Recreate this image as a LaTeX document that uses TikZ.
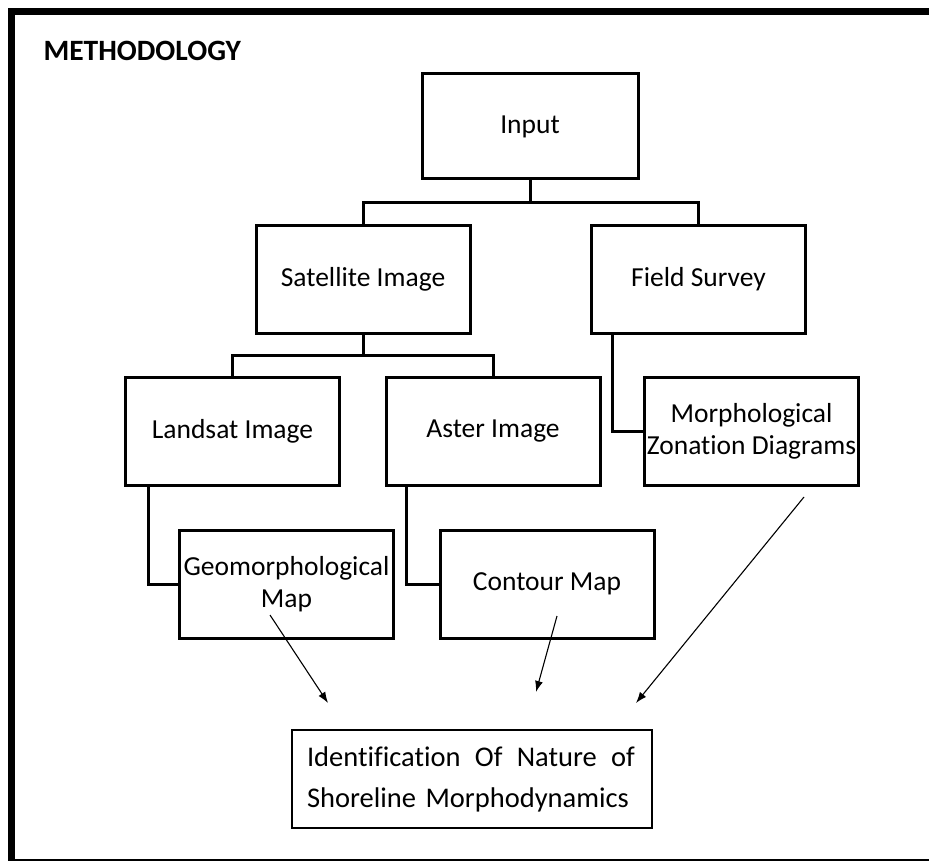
\documentclass[tikz,border=0pt]{standalone}
\usepackage{fontspec}
\setmainfont{Carlito}[Ligatures=NoCommon]
\usetikzlibrary{arrows.meta,calc}
\tikzset{>={Latex[length=11pt,width=8pt]}}
\tikzset{
  box/.style = {
    draw, line width=3pt, rectangle, inner sep=0pt,
    minimum width=214pt, minimum height=108pt,
    align=center, font=\fontsize{27.5}{32}\selectfont
  },
  link/.style = {line width=3pt},
  flow/.style = {->, line width=1.1pt}
}

\begin{document}
\begin{tikzpicture}[x=1pt,y=-1pt]
  \useasboundingbox (0,0) rectangle (929,861);
  % frame
  \draw[line width=7pt] (940,11.5) -- (11.5,11.5) -- (11.5,870);
  \draw[line width=7pt] (8,862) -- (940,862);
  \node[anchor=base west, font=\fontsize{29.5}{34}\selectfont\bfseries] (title) at (40,61) {METHODOLOGY};
  % boxes
  \node[box, minimum width=216pt, minimum height=105pt] (input) at (530,126.5) {Input};
  \node[box] (sat) at (363,279.5) {Satellite Image};
  \node[box] (field) at (698.5,279.5) {Field Survey};
  \node[box] (landsat) at (232.5,431) {Landsat Image};
  \node[box] (aster) at (493,431) {Aster Image};
  \node[box] (morph) at (751.5,431) {Morphological\\Zonation Diagrams};
  \node[box] (geo) at (286.5,584) {Geomorphological\\Map};
  \node[box] (contour) at (547,584) {Contour Map};
  \node[draw, line width=2pt, minimum width=360pt, minimum height=98pt, inner sep=0pt,
    text width=330pt, align=left, font=\fontsize{28.5}{41}\selectfont] (result) at (472,779)
    {\makebox[328pt]{Identification\hfill Of\hfill Nature\hfill of}\\Shoreline Morphodynamics};
  % tree
  \coordinate (j1) at (530,203);
  \coordinate (j2) at (363,355);
  \draw[link] (input) -- (j1);
  \draw[link] (sat.north) |- (j1) -| (field.north);
  \draw[link] (sat) -- (j2);
  \draw[link] (landsat.north) |- (j2) -| (aster.north);
  \draw[link] ([xshift=22pt]field.south west) |- (morph.west);
  \draw[link] ([xshift=24pt]landsat.south west) |- (geo.west);
  \draw[link] ([xshift=22pt]aster.south west) |- (contour.west);
  % arrows to result
  \coordinate (g1) at (270,615);
  \coordinate (g2) at (328,703);
  \coordinate (c1) at (557,616);
  \coordinate (c2) at (536,692);
  \coordinate (m1) at (804,497);
  \coordinate (m2) at (636,703);
  \draw[flow] (g1) -- (g2);
  \draw[flow] (c1) -- (c2);
  \draw[flow] (m1) -- (m2);
\end{tikzpicture}
\end{document}
